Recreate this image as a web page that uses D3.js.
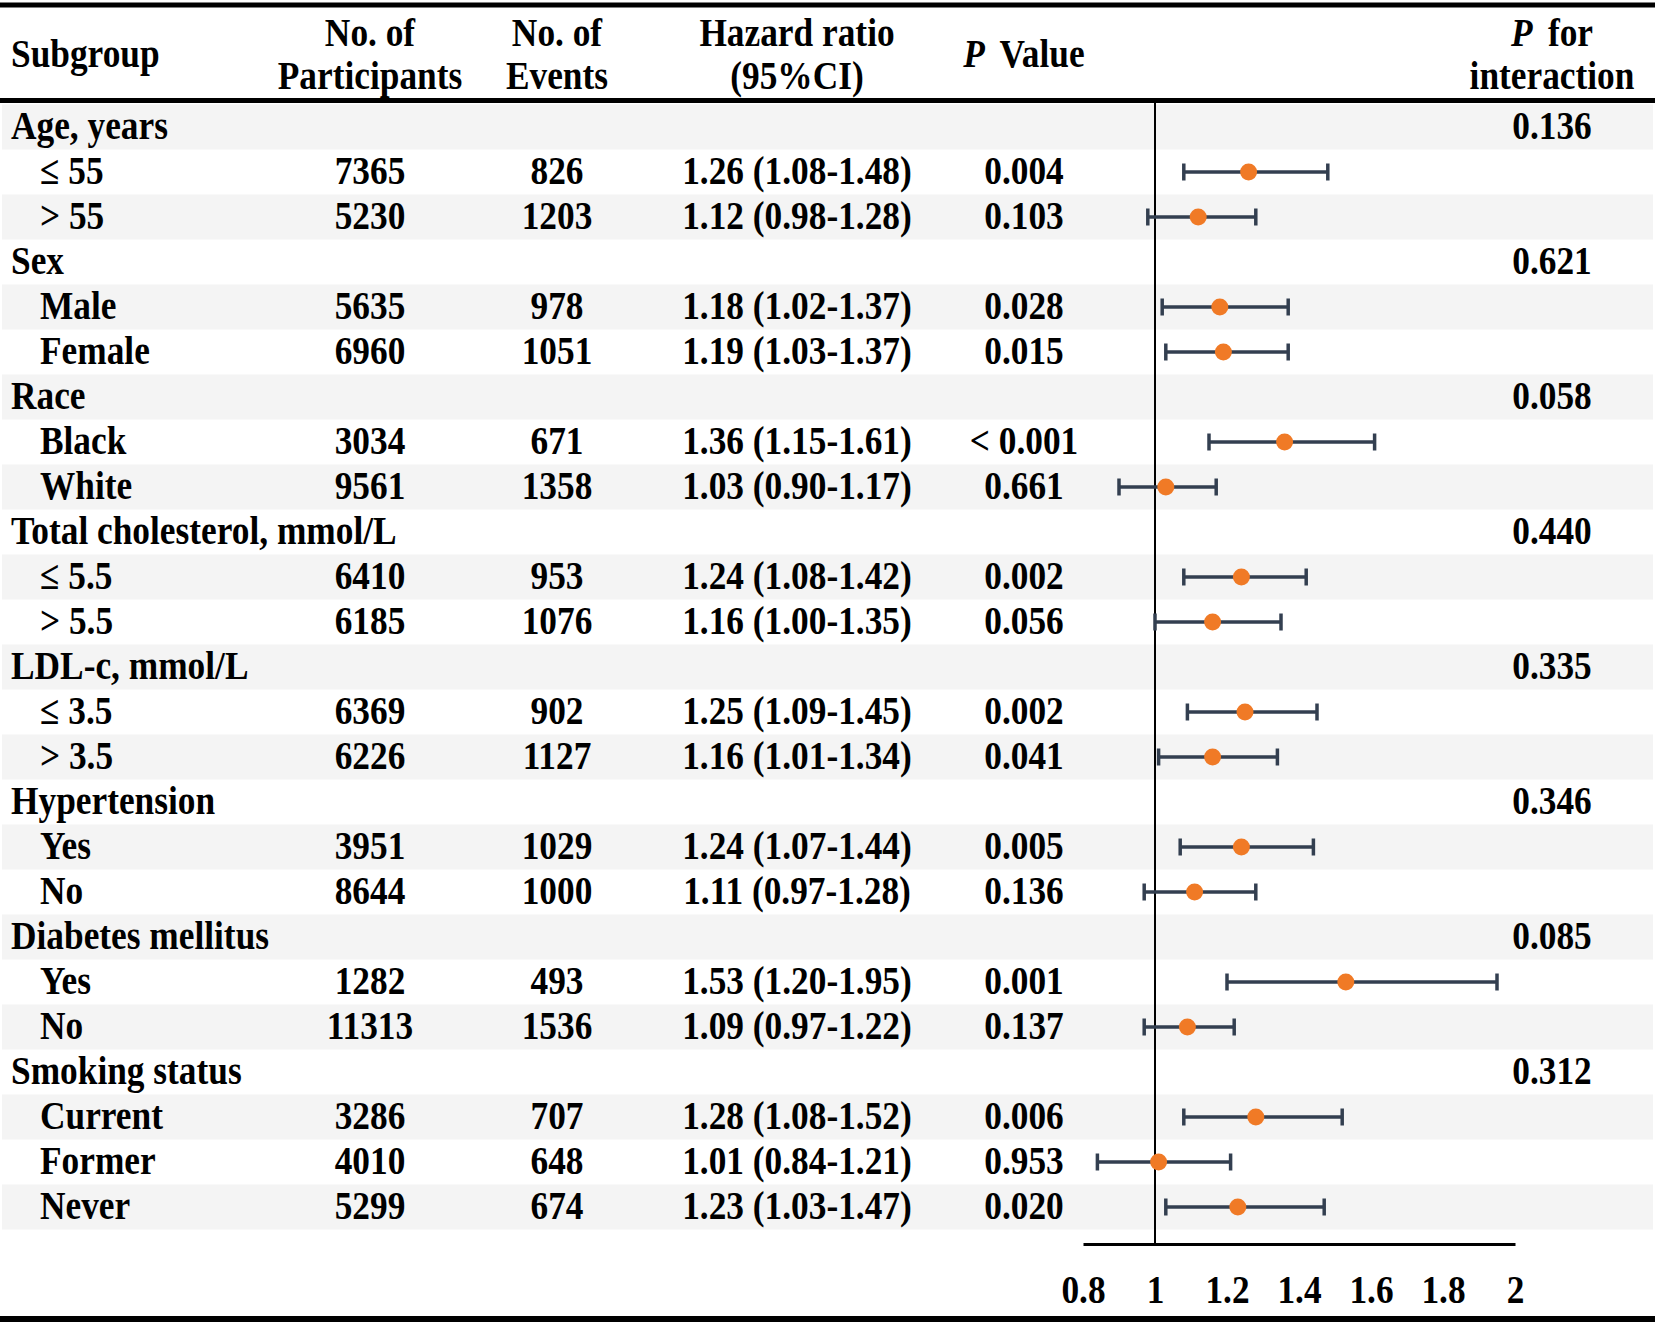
<!DOCTYPE html>
<html>
<head>
<meta charset="utf-8">
<script src="https://cdn.jsdelivr.net/npm/d3@7"></script>
<style>
  body { margin: 0; background: #fff; }
  text { font-family: "Liberation Serif", "Times New Roman", serif; font-weight: bold; fill: #000; }
</style>
</head>
<body>
<div id="chart"></div>
<script>
// rows of the table (group headers have no data)
const labels = [
  "Age, years", "\u2264 55", "> 55",
  "Sex", "Male", "Female",
  "Race", "Black", "White",
  "Total cholesterol, mmol/L", "\u2264 5.5", "> 5.5",
  "LDL-c, mmol/L", "\u2264 3.5", "> 3.5",
  "Hypertension", "Yes", "No",
  "Diabetes mellitus", "Yes", "No",
  "Smoking status", "Current", "Former", "Never"
];
const isGroup = [
  1, 0, 0, 1, 0, 0, 1, 0, 0, 1, 0, 0, 1, 0, 0, 1, 0, 0, 1, 0, 0, 1, 0, 0, 0
];
const participants = [
  null, 7365, 5230, null, 5635, 6960, null, 3034, 9561, null, 6410, 6185,
  null, 6369, 6226, null, 3951, 8644, null, 1282, 11313, null, 3286, 4010, 5299
];
const events = [
  null, 826, 1203, null, 978, 1051, null, 671, 1358, null, 953, 1076,
  null, 902, 1127, null, 1029, 1000, null, 493, 1536, null, 707, 648, 674
];
const hr = [
  null, 1.26, 1.12, null, 1.18, 1.19, null, 1.36, 1.03, null, 1.24, 1.16,
  null, 1.25, 1.16, null, 1.24, 1.11, null, 1.53, 1.09, null, 1.28, 1.01, 1.23
];
const lower = [
  null, 1.08, 0.98, null, 1.02, 1.03, null, 1.15, 0.90, null, 1.08, 1.00,
  null, 1.09, 1.01, null, 1.07, 0.97, null, 1.20, 0.97, null, 1.08, 0.84, 1.03
];
const upper = [
  null, 1.48, 1.28, null, 1.37, 1.37, null, 1.61, 1.17, null, 1.42, 1.35,
  null, 1.45, 1.34, null, 1.44, 1.28, null, 1.95, 1.22, null, 1.52, 1.21, 1.47
];
const pValues = [
  "", "0.004", "0.103", "", "0.028", "0.015", "", "< 0.001", "0.661", "", "0.002", "0.056",
  "", "0.002", "0.041", "", "0.005", "0.136", "", "0.001", "0.137", "", "0.006", "0.953", "0.020"
];
const pInteraction = [
  "0.136", "", "", "0.621", "", "", "0.058", "", "", "0.440", "", "",
  "0.335", "", "", "0.346", "", "", "0.085", "", "", "0.312", "", "", ""
];
const xTicks = [0.8, 1, 1.2, 1.4, 1.6, 1.8, 2];

const width = 1655;
const height = 1325;
const fontSize = 38;
const squeeze = 0.93;
const stretch = 1.05;

const svg = d3.select("#chart")
  .append("svg")
  .attr("width", width)
  .attr("height", height);

const rows = labels.map((label, i) => ({
  i, label, group: isGroup[i] === 1,
  n: participants[i], ev: events[i],
  hr: hr[i], lo: lower[i], hi: upper[i],
  p: pValues[i], pint: pInteraction[i]
}));

const y = d3.scaleBand()
  .domain(rows.map(d => d.i))
  .range([104.5, 1229.5]);

const x = d3.scaleLinear()
  .domain([0.8, 2])
  .range([1083, 1515]);

// column centres
const col = { label: 11, indent: 40, n: 370, ev: 557, hr: 797, p: 1024, pint: 1552 };

// helper for slightly condensed text
function addText(parent, tx, ty, str, anchor) {
  return parent.append("text")
    .attr("transform", `translate(${tx},${ty}) scale(${squeeze},${stretch})`)
    .attr("text-anchor", anchor || "middle")
    .style("font-size", fontSize + "px")
    .text(str);
}

// striped background
svg.selectAll(".band")
  .data(rows.filter(d => d.i % 2 === 0))
  .enter()
  .append("rect")
  .attr("class", "band")
  .attr("x", 2)
  .attr("width", width - 4)
  .attr("y", d => y(d.i))
  .attr("height", y.bandwidth())
  .style("fill", "#f4f4f4");

// rules
svg.append("rect").attr("x", 0).attr("y", 2.5).attr("width", width).attr("height", 5).style("fill", "#000");
svg.append("rect").attr("x", 0).attr("y", 98).attr("width", width).attr("height", 5).style("fill", "#000");
svg.append("rect").attr("x", 0).attr("y", 1316).attr("width", width).attr("height", 6).style("fill", "#000");

// header
const head = svg.append("g");
addText(head, col.label, 67, "Subgroup", "start");
addText(head, col.n, 46, "No. of");
addText(head, col.n, 89, "Participants");
addText(head, col.ev, 46, "No. of");
addText(head, col.ev, 89, "Events");
addText(head, col.hr, 46, "Hazard ratio");
addText(head, col.hr, 89, "(95%CI)");
const pv = addText(head, col.p, 67, "");
pv.append("tspan").style("font-style", "italic").text("P");
pv.append("tspan").attr("dx", 7).text(" Value");
const pf = addText(head, col.pint, 46, "");
pf.append("tspan").style("font-style", "italic").text("P");
pf.append("tspan").attr("dx", 7).text(" for");
addText(head, col.pint, 89, "interaction");

// table body
const baseOff = 34.5;
const body = svg.append("g");
rows.forEach(d => {
  const ty = y(d.i) + baseOff;
  addText(body, d.group ? col.label : col.indent, ty, d.label, "start");
  if (!d.group) {
    addText(body, col.n, ty, d.n);
    addText(body, col.ev, ty, d.ev);
    addText(body, col.hr, ty, `${d.hr.toFixed(2)} (${d.lo.toFixed(2)}-${d.hi.toFixed(2)})`);
    addText(body, col.p, ty, d.p);
  }
  if (d.pint) addText(body, col.pint, ty, d.pint);
});

// reference line at HR = 1
svg.append("line")
  .attr("x1", x(1)).attr("x2", x(1))
  .attr("y1", 103).attr("y2", 1244)
  .style("stroke", "#000")
  .style("stroke-width", 2);

// axis
const axis = svg.append("g")
  .attr("transform", "translate(0,1244)")
  .call(d3.axisBottom(x).tickValues(xTicks).tickSize(0).tickSizeOuter(0).tickPadding(29).tickFormat(d => String(d)));
axis.select(".domain").style("stroke", "#000").style("stroke-width", 3);
axis.selectAll(".tick text")
  .attr("transform", `scale(${squeeze},${stretch})`)
  .style("font-family", '"Liberation Serif", "Times New Roman", serif')
  .style("font-weight", "bold")
  .style("font-size", fontSize + "px")
  .style("fill", "#000");

// confidence intervals
const est = rows.filter(d => !d.group);
const ciColor = "#333f50";
const cy = d => y(d.i) + y.bandwidth() / 2;

svg.selectAll(".ci")
  .data(est)
  .enter()
  .append("line")
  .attr("class", "ci")
  .attr("x1", d => x(d.lo)).attr("x2", d => x(d.hi))
  .attr("y1", cy).attr("y2", cy)
  .style("stroke", ciColor)
  .style("stroke-width", 3.5);

["lo", "hi"].forEach(k => {
  svg.selectAll(".cap-" + k)
    .data(est)
    .enter()
    .append("line")
    .attr("class", "cap-" + k)
    .attr("x1", d => x(d[k])).attr("x2", d => x(d[k]))
    .attr("y1", d => cy(d) - 8.5).attr("y2", d => cy(d) + 8.5)
    .style("stroke", ciColor)
    .style("stroke-width", 3.5);
});

svg.selectAll(".pt")
  .data(est)
  .enter()
  .append("circle")
  .attr("class", "pt")
  .attr("cx", d => x(d.hr))
  .attr("cy", cy)
  .attr("r", 8.5)
  .style("fill", "#f07a26");
</script>
</body>
</html>
